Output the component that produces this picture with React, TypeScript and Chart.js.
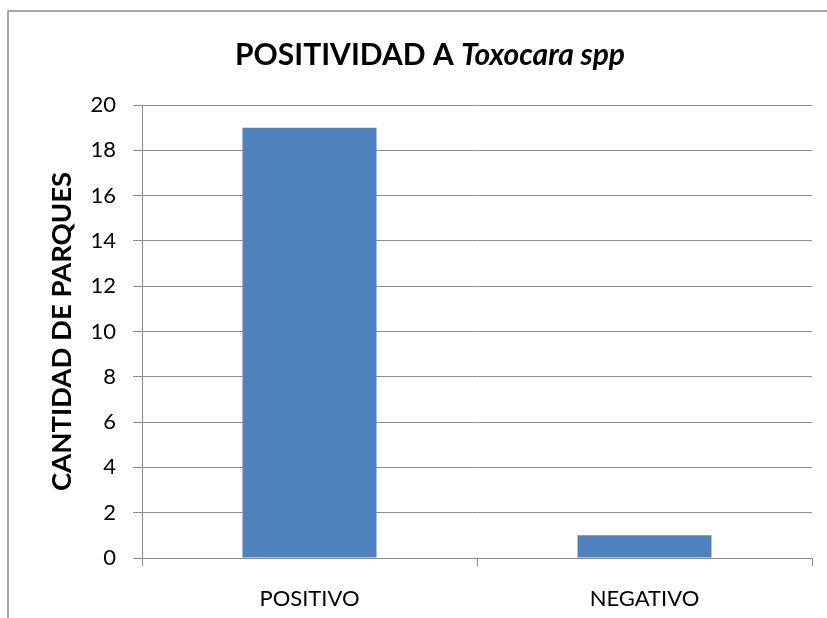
import React, { useEffect, useRef } from "react";
import { Chart, registerables } from "chart.js";

Chart.register(...registerables);

const categories = ["POSITIVO", "NEGATIVO"];
const values = [19, 1];
const titleMain = "POSITIVIDAD A ";
const titleItalic = "Toxocara spp";
const yTitle = "CANTIDAD DE PARQUES";

const FONT = "Lato, 'Open Sans', sans-serif";
const GRID = "#8c8c8c";

const decorPlugin = {
  id: "decor",
  beforeDraw(chart: any) {
    const ctx = chart.ctx;
    ctx.save();
    ctx.fillStyle = "#ffffff";
    ctx.fillRect(0, 0, chart.width, chart.height);
    ctx.strokeStyle = "#8a8a8a";
    ctx.lineWidth = 1.5;
    ctx.beginPath();
    ctx.moveTo(8, chart.height);
    ctx.lineTo(8, 11);
    ctx.lineTo(chart.width, 11);
    ctx.stroke();
    ctx.restore();
  },
  afterDraw(chart: any) {
    const ctx = chart.ctx;
    ctx.save();
    ctx.fillStyle = "#000";
    ctx.textBaseline = "alphabetic";
    const f1 = `bold 30px ${FONT}`;
    const f2 = `italic bold 30px ${FONT}`;
    ctx.font = f1;
    const w1 = ctx.measureText(titleMain).width;
    ctx.font = f2;
    const w2 = ctx.measureText(titleItalic).width;
    const cx = 430;
    const x0 = cx - (w1 + w2) / 2;
    ctx.font = f1;
    ctx.fillText(titleMain, x0, 65);
    ctx.font = f2;
    ctx.fillText(titleItalic, x0 + w1, 65);
    ctx.restore();
  },
};

export default function App() {
  const ref = useRef<HTMLCanvasElement | null>(null);
  useEffect(() => {
    if (!ref.current) return;
    const chart = new Chart(ref.current, {
      type: "bar",
      data: {
        labels: categories,
        datasets: [
          {
            data: values,
            backgroundColor: "#4f81bd",
            borderWidth: 0,
            barPercentage: 0.4,
            categoryPercentage: 1,
          },
        ],
      },
      options: {
        responsive: false,
        animation: false,
        layout: { padding: { top: 105, right: 15, left: 0, bottom: 0 } },
        plugins: {
          legend: { display: false },
          title: { display: false },
          tooltip: { enabled: false },
        },
        scales: {
          x: {
            afterFit: (s: any) => {
              s.height = 60;
            },
            grid: {
              offset: true,
              drawOnChartArea: false,
              drawTicks: true,
              tickLength: 8,
              color: GRID,
            },
            border: { color: GRID, width: 1 },
            ticks: {
              color: "#000",
              font: { family: FONT, size: 22 },
              padding: 20,
            },
          },
          y: {
            min: 0,
            max: 20,
            afterFit: (s: any) => {
              s.width = 142;
            },
            ticks: {
              stepSize: 2,
              color: "#000",
              font: { family: FONT, size: 22 },
              padding: 17,
            },
            grid: { color: GRID, tickLength: 9 },
            border: { color: GRID, width: 1 },
            title: {
              display: true,
              text: yTitle,
              color: "#000",
              font: { family: FONT, size: 27.5, weight: "bold" },
              padding: { top: 46, bottom: 0 },
            },
          },
        },
      },
      plugins: [decorPlugin],
    });
    return () => chart.destroy();
  }, []);
  return (
    <div style={{ position: "absolute", left: 0, top: 0, width: 827, height: 618 }}>
      <canvas ref={ref} width={827} height={618} style={{ display: "block" }} />
    </div>
  );
}
